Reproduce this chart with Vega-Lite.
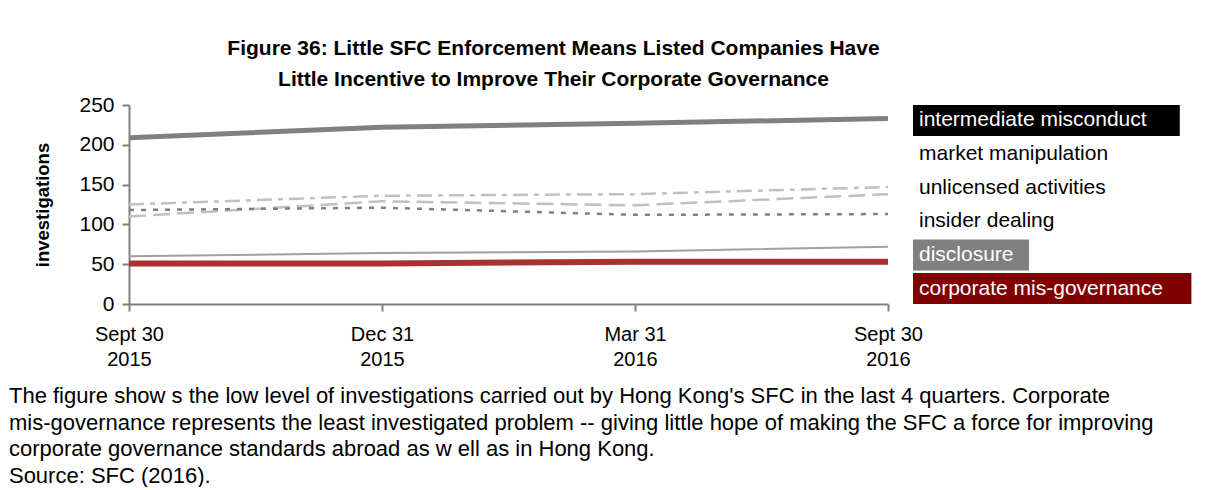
{
  "$schema": "https://vega.github.io/schema/vega-lite/v6.json",
  "padding": {"left": 8, "top": 38, "right": 0, "bottom": 0},
  "autosize": {"type": "pad"},
  "title": {
    "text": [
      "The figure show s the low  level of investigations carried out by Hong Kong's SFC in the last 4 quarters. Corporate",
      "mis-governance represents the least investigated problem -- giving little hope of making the SFC a force for improving",
      "corporate governance standards abroad as w ell as in Hong Kong.",
      "Source: SFC (2016)."
    ],
    "orient": "bottom",
    "anchor": "start",
    "frame": "bounds",
    "fontSize": 22,
    "fontWeight": "normal",
    "lineHeight": 26.5,
    "offset": 17,
    "dx": -25,
    "color": "#000000"
  },
  "datasets": {
    "lines": [
      {"quarter": "Sept 30 2015", "series": "intermediate misconduct", "value": 209},
      {"quarter": "Dec 31 2015", "series": "intermediate misconduct", "value": 222},
      {"quarter": "Mar 31 2016", "series": "intermediate misconduct", "value": 227},
      {"quarter": "Sept 30 2016", "series": "intermediate misconduct", "value": 233},
      {"quarter": "Sept 30 2015", "series": "market manipulation", "value": 125},
      {"quarter": "Dec 31 2015", "series": "market manipulation", "value": 136},
      {"quarter": "Mar 31 2016", "series": "market manipulation", "value": 138},
      {"quarter": "Sept 30 2016", "series": "market manipulation", "value": 147},
      {"quarter": "Sept 30 2015", "series": "unlicensed activities", "value": 110},
      {"quarter": "Dec 31 2015", "series": "unlicensed activities", "value": 129},
      {"quarter": "Mar 31 2016", "series": "unlicensed activities", "value": 124},
      {"quarter": "Sept 30 2016", "series": "unlicensed activities", "value": 138},
      {"quarter": "Sept 30 2015", "series": "insider dealing", "value": 118},
      {"quarter": "Dec 31 2015", "series": "insider dealing", "value": 121},
      {"quarter": "Mar 31 2016", "series": "insider dealing", "value": 112},
      {"quarter": "Sept 30 2016", "series": "insider dealing", "value": 113},
      {"quarter": "Sept 30 2015", "series": "disclosure", "value": 60},
      {"quarter": "Dec 31 2015", "series": "disclosure", "value": 64},
      {"quarter": "Mar 31 2016", "series": "disclosure", "value": 66},
      {"quarter": "Sept 30 2016", "series": "disclosure", "value": 72},
      {"quarter": "Sept 30 2015", "series": "corporate mis-governance", "value": 51},
      {"quarter": "Dec 31 2015", "series": "corporate mis-governance", "value": 51},
      {"quarter": "Mar 31 2016", "series": "corporate mis-governance", "value": 53},
      {"quarter": "Sept 30 2016", "series": "corporate mis-governance", "value": 53}
    ],
    "legend": [
      {"series": "intermediate misconduct"},
      {"series": "market manipulation"},
      {"series": "unlicensed activities"},
      {"series": "insider dealing"},
      {"series": "disclosure"},
      {"series": "corporate mis-governance"}
    ]
  },
  "vconcat": [
    {
      "title": {
        "text": [
          "Figure 36: Little SFC Enforcement Means Listed Companies Have",
          "Little Incentive to Improve Their Corporate Governance"
        ],
        "anchor": "middle",
        "frame": "bounds",
        "dx": -60,
        "fontSize": 21,
        "fontWeight": "bold",
        "lineHeight": 31,
        "offset": 4,
        "color": "#000000"
      },
      "bounds": "flush",
      "spacing": 25,
      "hconcat": [
        {
          "width": 759,
          "height": 199,
          "data": {"name": "lines"},
          "encoding": {
            "x": {
              "field": "quarter",
              "type": "ordinal",
              "sort": ["Sept 30 2015", "Dec 31 2015", "Mar 31 2016", "Sept 30 2016"],
              "scale": {"type": "point", "padding": 0},
              "axis": {
                "title": null,
                "labelAngle": 0,
                "labelExpr": "[substring(datum.label, 0, length(datum.label) - 5), substring(datum.label, length(datum.label) - 4)]",
                "labelFontSize": 20,
                "labelLineHeight": 25,
                "labelPadding": 13,
                "labelColor": "#000000",
                "domainColor": "#808080",
                "domainWidth": 2,
                "tickColor": "#808080",
                "tickWidth": 2,
                "tickSize": 7,
                "grid": false
              }
            },
            "y": {
              "field": "value",
              "type": "quantitative",
              "scale": {"domain": [0, 250], "nice": false},
              "axis": {
                "title": "investigations",
                "titleFontSize": 18.5,
                "titleFontWeight": "bold",
                "titleColor": "#000000",
                "titlePadding": 26,
                "values": [0, 50, 100, 150, 200, 250],
                "labelFontSize": 21,
                "labelColor": "#000000",
                "labelPadding": 8,
                "domainColor": "#808080",
                "domainWidth": 2,
                "tickColor": "#808080",
                "tickWidth": 2,
                "tickSize": 7,
                "grid": false
              }
            }
          },
          "layer": [
            {
              "transform": [{"filter": "datum.series === 'market manipulation'"}],
              "mark": {"type": "line", "color": "#c0c0c0", "strokeWidth": 2.5, "strokeDash": [15, 6, 5, 6]}
            },
            {
              "transform": [{"filter": "datum.series === 'unlicensed activities'"}],
              "mark": {"type": "line", "color": "#c0c0c0", "strokeWidth": 2.5, "strokeDash": [17, 7]}
            },
            {
              "transform": [{"filter": "datum.series === 'insider dealing'"}],
              "mark": {"type": "line", "color": "#808080", "strokeWidth": 2.5, "strokeDash": [5, 7]}
            },
            {
              "transform": [{"filter": "datum.series === 'disclosure'"}],
              "mark": {"type": "line", "color": "#a0a0a0", "strokeWidth": 2}
            },
            {
              "transform": [{"filter": "datum.series === 'corporate mis-governance'"}],
              "mark": {"type": "line", "color": "#a83232", "strokeWidth": 6}
            },
            {
              "transform": [{"filter": "datum.series === 'intermediate misconduct'"}],
              "mark": {"type": "line", "color": "#808080", "strokeWidth": 5}
            }
          ]
        },
        {
          "width": 280,
          "height": 199,
          "data": {"name": "legend"},
          "transform": [
            {"calculate": "0", "as": "boxStart"},
            {"calculate": "length(datum.series) * 11.6", "as": "boxEnd"}
          ],
          "encoding": {
            "y": {
              "field": "series",
              "type": "nominal",
              "sort": ["intermediate misconduct", "market manipulation", "unlicensed activities", "insider dealing", "disclosure", "corporate mis-governance"],
              "scale": {"type": "band", "paddingInner": 0.08, "paddingOuter": 0},
              "axis": null
            },
            "x": {"field": "boxStart", "type": "quantitative", "scale": {"domain": [0, 280], "nice": false, "zero": false}, "axis": null}
          },
          "layer": [
            {
              "mark": {"type": "rect"},
              "encoding": {
                "x2": {"field": "boxEnd"},
                "fill": {
                  "field": "series",
                  "type": "nominal",
                  "scale": {
                    "domain": ["intermediate misconduct", "market manipulation", "unlicensed activities", "insider dealing", "disclosure", "corporate mis-governance"],
                    "range": ["#000000", "rgba(0,0,0,0)", "rgba(0,0,0,0)", "rgba(0,0,0,0)", "#808080", "#800000"]
                  },
                  "legend": null
                }
              }
            },
            {
              "mark": {"type": "text", "align": "left", "baseline": "middle", "dx": 6, "fontSize": 21},
              "encoding": {
                "text": {"field": "series"},
                "color": {
                  "field": "series",
                  "type": "nominal",
                  "scale": {
                    "domain": ["intermediate misconduct", "market manipulation", "unlicensed activities", "insider dealing", "disclosure", "corporate mis-governance"],
                    "range": ["#ffffff", "#000000", "#000000", "#000000", "#ffffff", "#ffffff"]
                  },
                  "legend": null
                }
              }
            }
          ]
        }
      ]
    }
  ],
  "config": {
    "view": {"stroke": null},
    "font": "Liberation Sans",
    "axis": {"labelFont": "Liberation Sans", "titleFont": "Liberation Sans"},
    "title": {"font": "Liberation Sans"}
  }
}
